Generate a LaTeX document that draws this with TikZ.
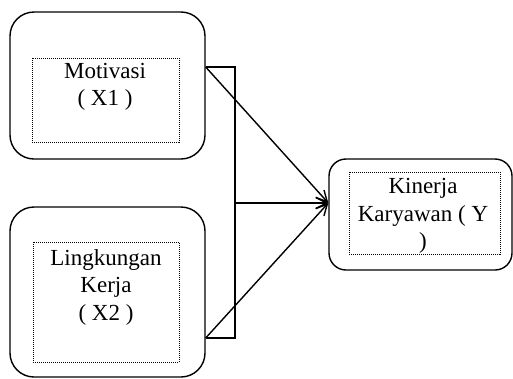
\documentclass[tikz,border=0pt]{standalone}
\usepackage{fontspec}
\setmainfont{Liberation Serif}
\usetikzlibrary{arrows.meta}
\begin{document}
\begin{tikzpicture}[x=1pt,y=-1pt,
  outerbox/.style={draw,line width=1.4pt,rounded corners=24pt,inner sep=0pt},
  dotbox/.style={draw,line width=1pt,dash pattern=on 1pt off 1pt,inner sep=0pt},
  txt/.style={align=center,font=\fontsize{23}{27.5}\selectfont,inner sep=0pt},
  link/.style={line width=1.4pt},
  arr/.style={link,-{Straight Barb[length=11pt,width=11pt]}}]
  \useasboundingbox (0,0) rectangle (513,378);
  \node[outerbox,minimum width=195pt,minimum height=147pt] (motbox) at (107.5,85.5) {};
  \node[dotbox,minimum width=147pt,minimum height=84pt] (motin) at (105.5,100) {};
  \node[txt] (mot) at (105,87) {Motivasi\\( X1 )};
  \node[outerbox,minimum width=195pt,minimum height=170pt] (lkbox) at (107.5,292) {};
  \node[dotbox,minimum width=146pt,minimum height=120pt] (lkin) at (106,302) {};
  \node[txt] (lk) at (106,287) {Lingkungan\\Kerja\\( X2 )};
  \node[outerbox,rounded corners=17pt,minimum width=183pt,minimum height=111pt] (kinbox) at (420.5,214.5) {};
  \node[dotbox,minimum width=151pt,minimum height=82pt] (kinin) at (424.5,213) {};
  \node[txt] (kin) at (423,216) {Kinerja\\Karyawan ( Y\\)};
  \coordinate (motout) at (motbox.east |- 0,67);
  \coordinate (lkout) at (lkbox.east |- 0,338);
  \coordinate (jt) at (235,67);
  \coordinate (jb) at (235,338);
  \coordinate (jm) at (235,203);
  \coordinate (kintip) at (kinbox.west |- 0,203);
  \draw[link] (motout) -- (jt) -- (jb) -- (lkout);
  \draw[arr] (jm) -- (kintip);
  \draw[arr] (motout) -- (kintip);
  \draw[arr] (lkout) -- (kintip);
\end{tikzpicture}
\end{document}
